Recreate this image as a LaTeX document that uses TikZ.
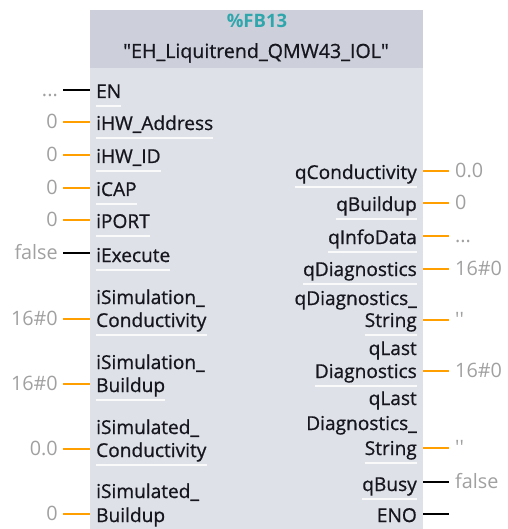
\documentclass[tikz,border=0pt]{standalone}
\usepackage{fontspec}
\setmainfont{Open Sans}
\newfontfamily\labfont{Open Sans}[FakeBold=0.8]
\definecolor{headc}{HTML}{CDD0DA}
\definecolor{bodyc}{HTML}{DFE1E8}
\definecolor{tealc}{HTML}{2FA6AC}
\definecolor{txtc}{HTML}{16161F}
\definecolor{valc}{HTML}{A0A0A0}
\definecolor{wireo}{HTML}{FF9F00}
\newcommand\tdots{...}
\newcommand\tqq{\textquotesingle\textquotesingle}
\tikzset{
  lab/.style={inner sep=0pt, text=txtc, font=\labfont\fontsize{19.1}{20}\selectfont},
  llab/.style={lab, anchor=base west},
  rlab/.style={lab, anchor=base east},
  val/.style={inner sep=0pt, text=valc, font=\fontsize{19.8}{20}\selectfont},
  lval/.style={val, anchor=base east},
  rval/.style={val, anchor=base west},
  owire/.style={draw=wireo, line width=2.8pt},
  bwire/.style={draw=black, line width=2.8pt},
  sep/.style={draw=white, line width=1.2pt, opacity=0.85}
}
\begin{document}
\begin{tikzpicture}[x=1pt,y=-1pt]
\useasboundingbox (0,0) rectangle (507,529);
\fill[bodyc] (90,68) rectangle (423,529);
\fill[headc] (90,10) rectangle (423,68);
\node[inner sep=0pt, anchor=base, text=tealc, font=\fontsize{18.5}{20}\selectfont\bfseries] (fb) at (257,28) {\%FB13};
\node[inner sep=0pt, anchor=base, text=txtc, font=\labfont\fontsize{19.6}{20}\selectfont] (title) at (256,58) {\textquotedbl EH\_Liquitrend\_QMW43\_IOL\textquotedbl};

% left side
\node[llab] (en) at (96,98) {EN};
\node[llab] (hwa) at (96,130) {iHW\_Address};
\node[llab] (hwid) at (96,163) {iHW\_ID};
\node[llab] (cap) at (96,196) {iCAP};
\node[llab] (port) at (96,228) {iPORT};
\node[llab] (exe) at (96,262) {iExecute};
\node[llab] (simc1) at (96,304) {iSimulation\_};
\node[llab] (simc) at (96,327) {Conductivity};
\node[llab] (simb1) at (96,369) {iSimulation\_};
\node[llab] (simb) at (96,392) {Buildup};
\node[llab] (sdc1) at (96,434) {iSimulated\_};
\node[llab] (sdc) at (96,457) {Conductivity};
\node[llab] (sdb1) at (96,498) {iSimulated\_};
\node[llab] (sdb) at (96,522) {Buildup};

\foreach \n/\y/\v/\w in {en/90/\tdots/bwire, hwa/122/0/owire, hwid/155/0/owire, cap/188/0/owire, port/220/0/owire, exe/253/false/bwire, simc/319/16\#0/owire, simb/384/16\#0/owire, sdc/449/0.0/owire, sdb/514/0/owire}{
  \coordinate (\n-w) at (63,\y);
  \coordinate (\n-p) at (90,\y);
  \draw[\w] (\n-w) -- (\n-p);
  \node[lval] (\n-v) at (58,\y+6.5) {\v};
  \draw[sep] ([yshift=-8pt]\n.base west) -- ([yshift=-8pt]\n.base east);
}

% right side
\node[rlab] (qc) at (417,179) {qConductivity};
\node[rlab] (qb) at (417,211) {qBuildup};
\node[rlab] (qi) at (417,244) {qInfoData};
\node[rlab] (qd) at (417,276) {qDiagnostics};
\node[rlab] (qds1) at (417,305) {qDiagnostics\_};
\node[rlab] (qds) at (417,327) {String};
\node[rlab] (qld1) at (417,355) {qLast};
\node[rlab] (qld) at (417,378) {Diagnostics};
\node[rlab] (qlds1) at (417,405) {qLast};
\node[rlab] (qlds2) at (417,430) {Diagnostics\_};
\node[rlab] (qlds) at (417,455) {String};
\node[rlab] (qbu) at (417,491) {qBusy};
\node[rlab] (eno) at (417,522) {ENO};

\foreach \n/\y/\v/\w in {qc/171/0.0/owire, qb/203/0/owire, qi/236/\tdots/owire, qd/269/16\#0/owire, qds/320/\tqq/owire, qld/371/16\#0/owire, qlds/448/\tqq/owire, qbu/482/false/bwire}{
  \coordinate (\n-p) at (423,\y);
  \coordinate (\n-w) at (449,\y);
  \draw[\w] (\n-p) -- (\n-w);
  \node[rval] (\n-v) at (455,\y+6.5) {\v};
  \draw[sep] ([yshift=-8pt]\n.base west) -- ([yshift=-8pt]\n.base east);
}
\coordinate (eno-p) at (423,514);
\coordinate (eno-w) at (449,514);
\draw[bwire] (eno-p) -- (eno-w);
\end{tikzpicture}
\end{document}
